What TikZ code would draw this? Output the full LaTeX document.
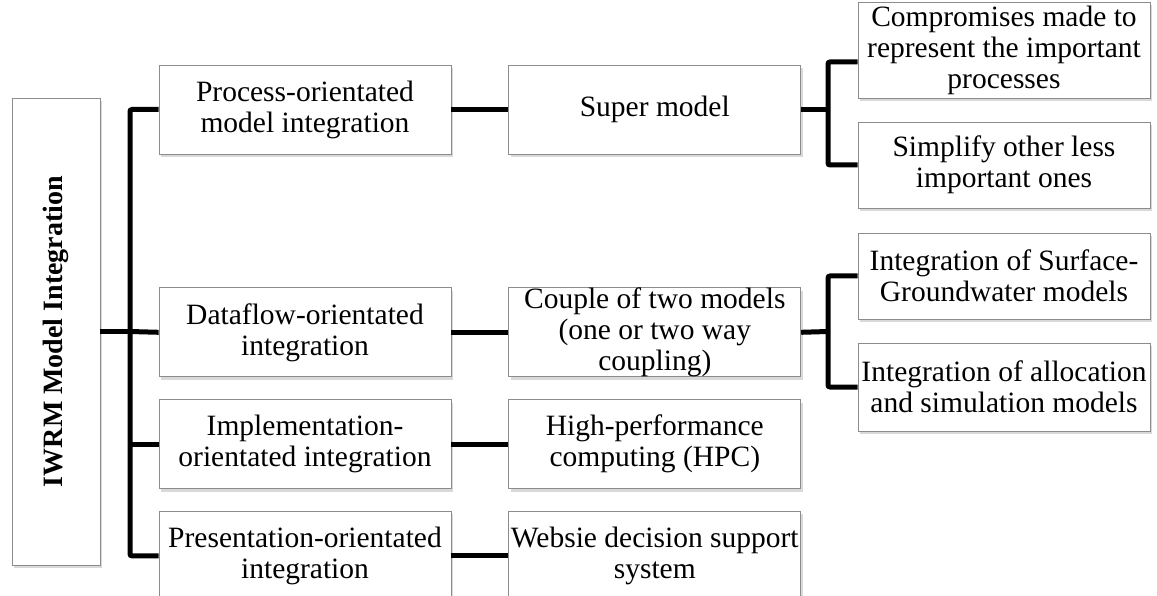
\documentclass[tikz,border=0pt]{standalone}
\usepackage{fontspec}
\setmainfont{Liberation Serif}
\usetikzlibrary{positioning, shadows}

\begin{document}
\begin{tikzpicture}[
    x=1pt, y=-1pt,
    box/.style={rectangle, draw=black!45, line width=0.8pt, fill=white, drop shadow={opacity=0.3, shadow xshift=2pt, shadow yshift=-3pt}, minimum width=292pt, minimum height=89pt, inner xsep=0pt, inner ysep=0pt, align=center, font=\fontsize{29.5}{31}\selectfont},
    rootbox/.style={box, minimum width=88pt, minimum height=467pt, font=\fontsize{28}{30}\selectfont\bfseries},
    link/.style={line width=5pt, rounded corners=2pt}
]
\useasboundingbox (0,0) rectangle (1157,596);

% Root
\node[rootbox] (root) at (56,331.5) {\rotatebox{90}{IWRM Model Integration}};

% Column 1: integration types
\node[box] (proc) at (305,109.5) {Process-orientated\\model integration};
\node[box, below=133pt of proc] (flow) {Dataflow-orientated\\integration};
\node[box, below=22pt of flow] (impl) {Implementation-\\orientated integration};
\node[box, below=22pt of impl] (pres) {Presentation-orientated\\integration};

% Column 2: approaches
\node[box, right=57pt of proc] (super) {Super model};
\node[box, right=57pt of flow] (couple) {Couple of two models\\(one or two way\\coupling)};
\node[box, right=57pt of impl] (hpc) {High-performance\\computing (HPC)};
\node[box, right=57pt of pres] (web) {Websie decision support\\system};

% Column 3: details
\node[box, minimum height=96pt] (comp) at (1004,50) {Compromises made to\\represent the important\\processes};
\node[box, minimum height=86pt] (simp) at (1004,165) {Simplify other less\\important ones};
\node[box, minimum height=86pt] (surf) at (1004,276) {Integration of Surface-\\Groundwater models};
\node[box, minimum height=88pt] (alloc) at (1004,387) {Integration of allocation\\and simulation models};

% Connectors
\coordinate (trunkA) at (130,331.5);
\draw[link] (root.east) -- (trunkA);
\draw[link] (proc.west) -| (trunkA |- pres.west) -- (pres.west);
\draw[link] (trunkA) -- (flow.west);
\draw[link] (trunkA |- impl.west) -- (impl.west);

\draw[link] (proc) -- (super);
\draw[link] (flow) -- (couple);
\draw[link] (impl) -- (hpc);
\draw[link] (pres) -- (web);

\coordinate (trunkB) at (828,109.5);
\draw[link] (super.east) -- (trunkB);
\draw[link] ([yshift=-12pt]comp.west) -| (trunkB |- simp.west) -- (simp.west);

\coordinate (trunkC) at (828,331.5);
\draw[link] (couple.east) -- (trunkC);
\draw[link] (surf.west) -| (trunkC |- alloc.west) -- (alloc.west);

\end{tikzpicture}
\end{document}
